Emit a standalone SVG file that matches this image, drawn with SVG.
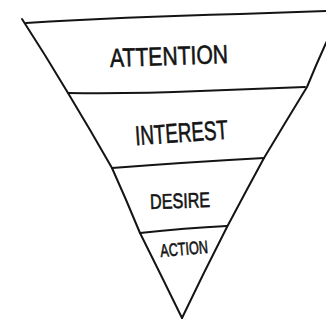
<svg xmlns="http://www.w3.org/2000/svg" width="326" height="320" viewBox="0 0 326 320">
  <style>
    .ln { fill: none; stroke: #141414; stroke-width: 2; stroke-linecap: round; stroke-linejoin: round; }
    .lbl { font-family: "Liberation Sans", Arial, sans-serif; fill: #141414; stroke: #141414; stroke-width: 0.6; text-anchor: middle; }
  </style>
  <rect width="326" height="320" fill="#ffffff"/>
  <g id="funnel-outline">
    <path class="ln" d="M22,19 Q46,56 68,93 Q91,131 112,168 Q126,199 140,233 Q161,275 182,318"/>
    <path class="ln" d="M336,22 Q331,33 326,43 Q316,65 307,87 Q285,123 264,158 Q245,193 227,227 Q204,272 182,318"/>
  </g>
  <g id="dividers">
    <path class="ln" d="M26,23 Q120,17 240,14 L328,11"/>
    <path class="ln" d="M68,93 Q130,94 200,91 L305,87"/>
    <path class="ln" d="M112,168 Q190,162 264,158"/>
    <path class="ln" d="M140,233 Q185,228 227,226"/>
  </g>
  <g id="attention">
    <text class="lbl" x="169" y="65" font-size="26" textLength="118" lengthAdjust="spacingAndGlyphs" transform="rotate(-2 169 56)">ATTENTION</text>
  </g>
  <g id="interest">
    <text class="lbl" x="181.5" y="142" font-size="27" textLength="93" lengthAdjust="spacingAndGlyphs" transform="rotate(-4 181.5 132)">INTEREST</text>
  </g>
  <g id="desire">
    <text class="lbl" x="180" y="208" font-size="21" textLength="60" lengthAdjust="spacingAndGlyphs" transform="rotate(-2 180 200)">DESIRE</text>
  </g>
  <g id="action">
    <text class="lbl" x="184" y="255" font-size="18" textLength="48" lengthAdjust="spacingAndGlyphs" transform="rotate(-5 184 248)">ACTION</text>
  </g>
</svg>
